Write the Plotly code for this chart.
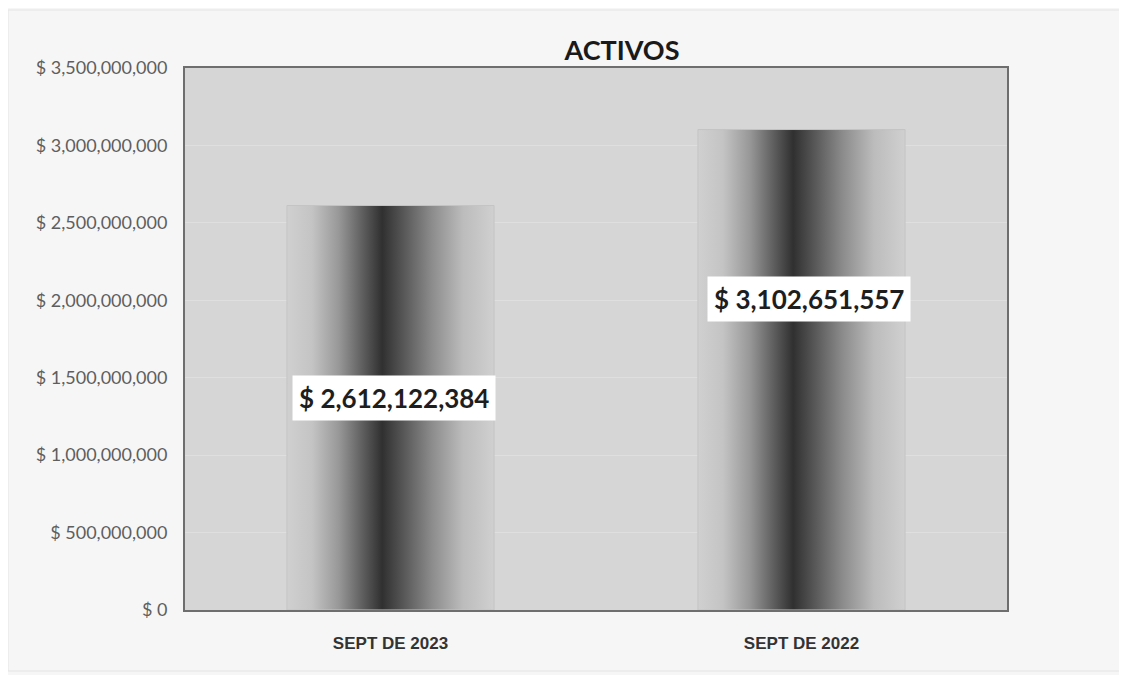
import plotly.graph_objects as go

categories = ["SEPT DE 2023", "SEPT DE 2022"]
values = [2612122384, 3102651557]
y_ticks = [0, 500000000, 1000000000, 1500000000, 2000000000, 2500000000, 3000000000, 3500000000]
title_text = "ACTIVOS"

# style / layout settings
W, H = 1119, 667
ML, MT, PW, PH = 177, 60, 822, 542
bar_half_width = 0.252
label_y_frac = [0.524, 0.647]  # fraction of bar value where label sits
label_x_shift = [3, 7]
gradient = [
    [0.0, "#d0d0d0"], [0.12, "#c4c4c4"], [0.25, "#989898"], [0.37, "#5c5c5c"],
    [0.46, "#303030"], [0.56, "#565656"], [0.7, "#8c8c8c"], [0.85, "#bcbcbc"], [1.0, "#d0d0d0"],
]

fig = go.Figure()
for i, (cat, v) in enumerate(zip(categories, values)):
    xs = [i - bar_half_width, i - bar_half_width, i + bar_half_width, i + bar_half_width, i - bar_half_width]
    ys = [0, v, v, 0, 0]
    fig.add_trace(go.Scatter(
        x=xs, y=ys, mode="lines", fill="toself",
        fillgradient=dict(type="horizontal", colorscale=gradient),
        line=dict(color="#c4c4c4", width=1),
        name=cat, showlegend=False, hoverinfo="skip",
    ))
    fig.add_annotation(
        x=i, y=v * label_y_frac[i], xref="x", yref="y",
        text=f"<b>$ {v:,}</b>", showarrow=False, xshift=label_x_shift[i],
        font=dict(family="Lato, Open Sans, sans-serif", size=26, color="#1e1e1e"),
        bgcolor="#ffffff", borderpad=6,
    )

fig.update_layout(
    width=W, height=H,
    margin=dict(l=ML, r=W - ML - PW, t=MT, b=H - MT - PH),
    paper_bgcolor="#f6f6f6", plot_bgcolor="#d6d6d6",
    title=dict(text=f"<b>{title_text}</b>", x=(622 - 8) / W, xanchor="center", xref="container",
               y=1 - 43 / H, yanchor="middle",
               font=dict(family="Lato, Open Sans, sans-serif", size=27, color="#1a1a1a")),
    showlegend=False,
)
fig.update_xaxes(
    range=[-0.5, 1.5], tickvals=list(range(len(categories))),
    ticktext=[f"<b>{c}</b>" for c in categories],
    tickfont=dict(family="Liberation Sans, Arial, sans-serif", size=17, color="#333333"),
    showgrid=False, zeroline=False, showline=True, mirror=True,
    linecolor="#6e6e6e", linewidth=2, ticks="", ticklabelstandoff=17,
)
fig.update_yaxes(
    range=[0, 3500000000], tickvals=y_ticks,
    ticktext=[f"$ {t:,}" if t else "$ 0" for t in y_ticks],
    tickfont=dict(family="Lato, Open Sans, sans-serif", size=18, color="#5e5e5e"),
    showgrid=True, gridcolor="#dfdfdf", gridwidth=1, zeroline=False,
    showline=True, mirror=True, linecolor="#6e6e6e", linewidth=2,
    ticks="", ticklabelstandoff=12,
)
fig.add_shape(type="rect", xref="paper", yref="paper",
              x0=-ML / PW, x1=1 + (W - ML - PW - 4) / PW, y0=-(H - MT - PH - 4) / PH, y1=1 + (MT - 2) / PH,
              line=dict(color="#e4e4e4", width=1), layer="below")
fig.write_html("out.html")
